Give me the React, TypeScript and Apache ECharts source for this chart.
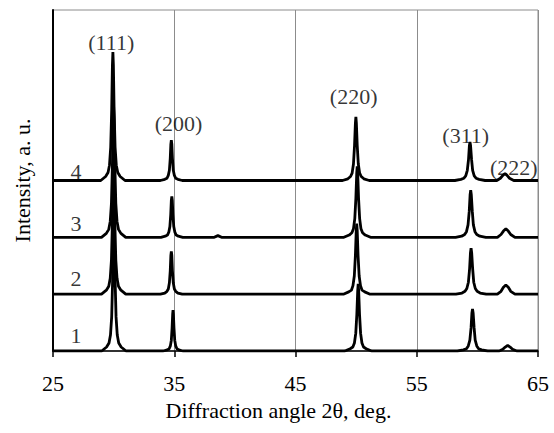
import React, { useEffect, useRef } from "react";
import * as echarts from "echarts";

// X axis ticks (diffraction angle 2θ, deg.)
const xTicks = [25, 35, 45, 55, 65];

// Vertical offsets of the stacked patterns (a.u.)
const offsets = [0, 1, 2, 3];
const curveNames = ["1", "2", "3", "4"];

// Pattern 1 (bottom): [2θ, intensity above own baseline]
const curve1: [number, number][] = [
  [25, 0],
  [29.02, 0], [29.42, 0.07], [29.62, 0.14], [29.74, 0.28], [29.84, 0.6], [29.92, 1.27], [29.98, 2.07], [30.02, 2.3],
  [30.06, 2.07], [30.12, 1.27], [30.2, 0.6], [30.3, 0.28], [30.42, 0.14], [30.62, 0.07], [31.02, 0],
  [34.1, 0], [34.42, 0.02], [34.58, 0.04], [34.68, 0.09], [34.76, 0.19], [34.82, 0.4], [34.87, 0.65], [34.9, 0.72],
  [34.93, 0.65], [34.98, 0.4], [35.04, 0.19], [35.12, 0.09], [35.22, 0.04], [35.38, 0.02], [35.7, 0],
  [49.07, 0], [49.51, 0.04], [49.73, 0.07], [49.86, 0.14], [49.97, 0.31], [50.06, 0.65], [50.13, 1.06], [50.17, 1.18],
  [50.21, 1.06], [50.28, 0.65], [50.37, 0.31], [50.48, 0.14], [50.61, 0.07], [50.83, 0.04], [51.27, 0],
  [58.35, 0], [58.85, 0.02], [59.1, 0.04], [59.25, 0.09], [59.38, 0.19], [59.48, 0.41], [59.55, 0.67], [59.6, 0.74],
  [59.65, 0.67], [59.73, 0.41], [59.82, 0.19], [59.95, 0.09], [60.1, 0.04], [60.35, 0.02], [60.85, 0],
  [61.8, 0], [62.1, 0.03], [62.3, 0.07], [62.5, 0.1], [62.7, 0.07], [62.9, 0.03], [63.25, 0],
  [65, 0],
];

// Pattern 2
const curve2: [number, number][] = [
  [25, 0],
  [29.0, 0], [29.4, 0.07], [29.6, 0.14], [29.72, 0.28], [29.82, 0.6], [29.9, 1.27], [29.96, 2.07], [30.0, 2.3],
  [30.04, 2.07], [30.1, 1.27], [30.18, 0.6], [30.28, 0.28], [30.4, 0.14], [30.6, 0.07], [31.0, 0],
  [33.86, 0], [34.22, 0.02], [34.4, 0.05], [34.51, 0.09], [34.6, 0.2], [34.67, 0.41], [34.72, 0.68], [34.76, 0.75],
  [34.8, 0.68], [34.85, 0.41], [34.92, 0.2], [35.01, 0.09], [35.12, 0.05], [35.3, 0.02], [35.66, 0],
  [48.95, 0], [49.39, 0.04], [49.61, 0.07], [49.74, 0.15], [49.85, 0.32], [49.94, 0.68], [50.01, 1.12], [50.05, 1.24],
  [50.09, 1.12], [50.16, 0.68], [50.25, 0.32], [50.36, 0.15], [50.49, 0.07], [50.71, 0.04], [51.15, 0],
  [58.23, 0], [58.73, 0.02], [58.98, 0.05], [59.13, 0.1], [59.26, 0.21], [59.36, 0.45], [59.43, 0.73], [59.48, 0.81],
  [59.53, 0.73], [59.61, 0.45], [59.7, 0.21], [59.83, 0.1], [59.98, 0.05], [60.23, 0.02], [60.73, 0],
  [61.65, 0], [61.95, 0.05], [62.15, 0.12], [62.35, 0.16], [62.55, 0.12], [62.75, 0.05], [63.1, 0],
  [65, 0],
];

// Pattern 3
const curve3: [number, number][] = [
  [25, 0],
  [29.0, 0], [29.4, 0.07], [29.6, 0.14], [29.72, 0.28], [29.82, 0.6], [29.9, 1.27], [29.96, 2.07], [30.0, 2.3],
  [30.04, 2.07], [30.1, 1.27], [30.18, 0.6], [30.28, 0.28], [30.4, 0.14], [30.6, 0.07], [31.0, 0],
  [33.9, 0], [34.26, 0.02], [34.44, 0.04], [34.55, 0.09], [34.64, 0.19], [34.71, 0.4], [34.76, 0.65], [34.8, 0.72],
  [34.84, 0.65], [34.89, 0.4], [34.96, 0.19], [35.05, 0.09], [35.16, 0.04], [35.34, 0.02], [35.7, 0],
  [38.3, 0], [38.6, 0.03], [38.9, 0],
  [48.99, 0], [49.43, 0.04], [49.65, 0.08], [49.78, 0.15], [49.89, 0.33], [49.98, 0.69], [50.05, 1.13], [50.09, 1.25],
  [50.13, 1.13], [50.2, 0.69], [50.29, 0.33], [50.4, 0.15], [50.53, 0.08], [50.75, 0.04], [51.19, 0],
  [58.2, 0], [58.7, 0.02], [58.95, 0.05], [59.1, 0.1], [59.23, 0.22], [59.33, 0.46], [59.4, 0.75], [59.45, 0.83],
  [59.5, 0.75], [59.58, 0.46], [59.67, 0.22], [59.8, 0.1], [59.95, 0.05], [60.2, 0.02], [60.7, 0],
  [61.65, 0], [61.95, 0.05], [62.15, 0.11], [62.35, 0.15], [62.55, 0.11], [62.75, 0.05], [63.1, 0],
  [65, 0],
];

// Pattern 4 (top)
const curve4: [number, number][] = [
  [25, 0],
  [28.94, 0], [29.34, 0.07], [29.54, 0.14], [29.66, 0.27], [29.76, 0.59], [29.84, 1.24], [29.9, 2.03], [29.94, 2.26],
  [29.98, 2.03], [30.04, 1.24], [30.12, 0.59], [30.22, 0.27], [30.34, 0.14], [30.54, 0.07], [30.94, 0],
  [33.86, 0], [34.22, 0.02], [34.4, 0.04], [34.51, 0.09], [34.6, 0.18], [34.67, 0.39], [34.72, 0.64], [34.76, 0.71],
  [34.8, 0.64], [34.85, 0.39], [34.92, 0.18], [35.01, 0.09], [35.12, 0.04], [35.3, 0.02], [35.66, 0],
  [48.88, 0], [49.32, 0.03], [49.54, 0.07], [49.67, 0.13], [49.78, 0.29], [49.87, 0.62], [49.94, 1.01], [49.98, 1.12],
  [50.02, 1.01], [50.09, 0.62], [50.18, 0.29], [50.29, 0.13], [50.42, 0.07], [50.64, 0.03], [51.08, 0],
  [58.14, 0], [58.64, 0.02], [58.89, 0.04], [59.04, 0.08], [59.17, 0.18], [59.27, 0.37], [59.34, 0.61], [59.39, 0.68],
  [59.44, 0.61], [59.52, 0.37], [59.61, 0.18], [59.74, 0.08], [59.89, 0.04], [60.14, 0.02], [60.64, 0],
  [61.6, 0], [61.9, 0.04], [62.1, 0.09], [62.28, 0.12], [62.45, 0.09], [62.65, 0.04], [63.0, 0],
  [65, 0],
];

const curves = [curve1, curve2, curve3, curve4];

// Annotations
const curveLabelX = [26.9, 26.9, 26.9, 26.9];
const curveLabelY = [0.27, 1.27, 2.24, 3.16];
const peakNames = ["(111)", "(200)", "(220)", "(311)", "(222)"];
const peakLabelX = [29.8, 35.35, 49.8, 59.04, 63.0];
const peakLabelY = [5.43, 4.01, 4.47, 3.79, 3.23];

const FONT = "'Liberation Serif', 'Times New Roman', serif";
const FS = 22;

export default function App() {
  const ref = useRef<HTMLDivElement>(null);
  useEffect(() => {
    if (!ref.current) return;
    const chart = echarts.init(ref.current, undefined, { renderer: "svg" });
    const lineSeries = curves.map((c, i) => ({
      type: "line",
      name: curveNames[i],
      data: c.map(([x, y]) => [x, y + offsets[i]]),
      showSymbol: false,
      symbol: "none",
      lineStyle: { color: "#000", width: 2.8 },
      silent: true,
      z: 3,
    }));
    const labelStyle = {
      show: true,
      position: "inside",
      formatter: "{b}",
      fontFamily: FONT,
      fontSize: FS,
      color: "#000",
    };
    chart.setOption({
      animation: false,
      textStyle: { fontFamily: FONT },
      grid: {
        left: 53,
        right: 16,
        top: 10,
        bottom: 82,
        show: true,
        borderColor: "#8c8c8c",
        borderWidth: 1,
      },
      xAxis: {
        type: "value",
        min: xTicks[0],
        max: xTicks[xTicks.length - 1],
        interval: 10,
        name: "Diffraction angle 2θ, deg.",
        nameLocation: "middle",
        nameGap: 48,
        nameTextStyle: { fontFamily: FONT, fontSize: FS, color: "#000", padding: [0, 34, 0, 0] },
        axisLine: { show: true, lineStyle: { color: "#000", width: 1.5 } },
        axisTick: { show: true, length: 6, lineStyle: { color: "#000", width: 1.5 } },
        axisLabel: { fontFamily: FONT, fontSize: FS, color: "#000", margin: 21 },
        splitLine: { show: true, lineStyle: { color: "#8c8c8c", width: 1 } },
      },
      yAxis: {
        type: "value",
        min: 0,
        max: 6,
        name: "Intensity, a. u.",
        nameLocation: "middle",
        nameGap: 20,
        nameTextStyle: { fontFamily: FONT, fontSize: FS, color: "#000" },
        axisLine: { show: true, lineStyle: { color: "#000", width: 2 } },
        axisTick: { show: false },
        axisLabel: { show: false },
        splitLine: { show: false },
      },
      series: [
        ...lineSeries,
        {
          type: "scatter",
          symbolSize: 0,
          silent: true,
          z: 5,
          data: curveNames.map((n, i) => ({ name: n, value: [curveLabelX[i], curveLabelY[i]] })),
          label: labelStyle,
        },
        {
          type: "scatter",
          symbolSize: 0,
          silent: true,
          z: 5,
          data: peakNames.map((n, i) => ({ name: n, value: [peakLabelX[i], peakLabelY[i]] })),
          label: labelStyle,
        },
      ],
    });
    return () => chart.dispose();
  }, []);
  return (
    <div
      ref={ref}
      style={{ position: "absolute", left: 0, top: 0, width: 554, height: 433 }}
    />
  );
}
